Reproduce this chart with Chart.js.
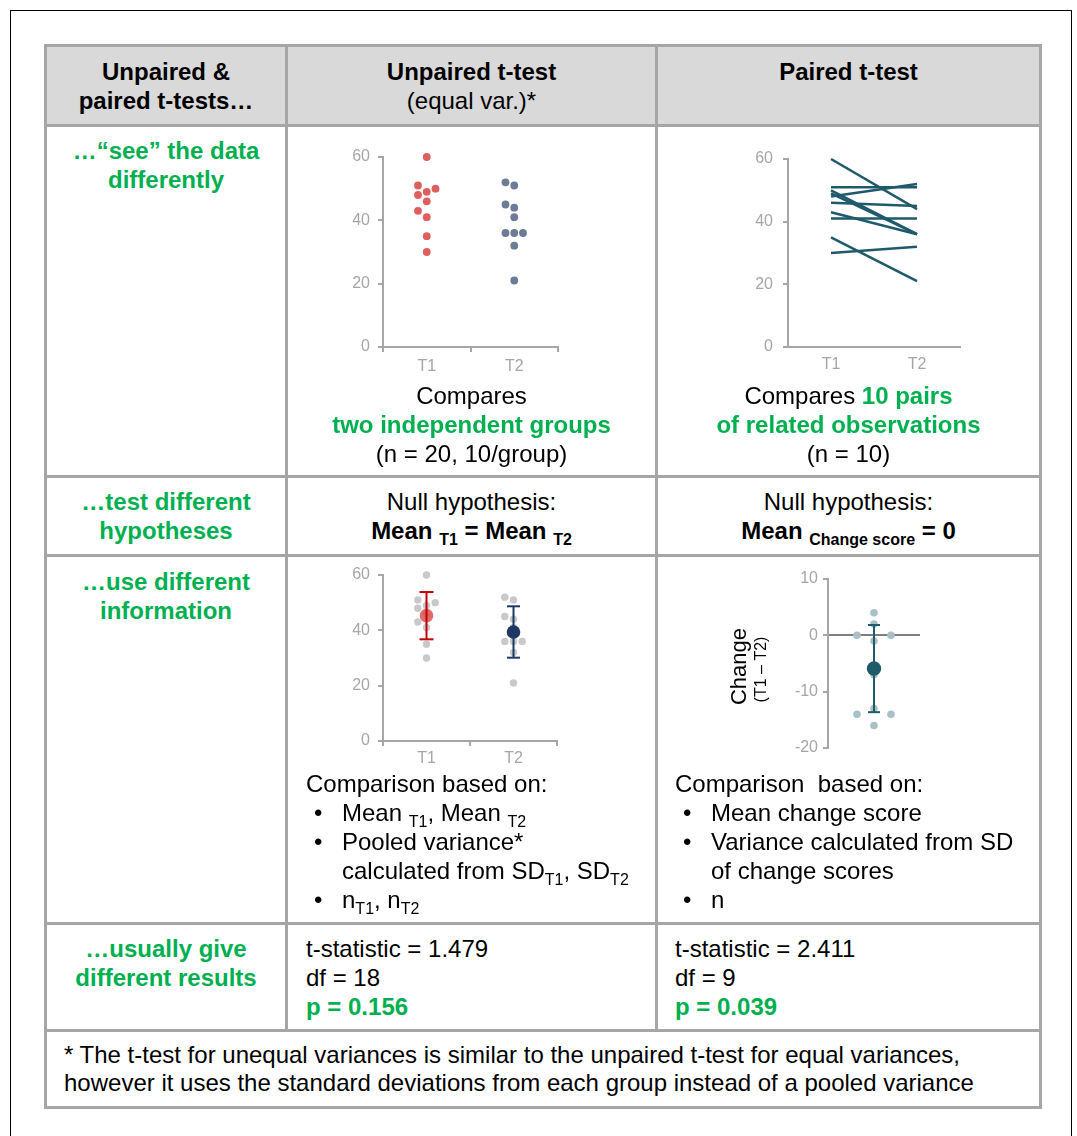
<!DOCTYPE html>
<html>
<head>
<meta charset="utf-8">
<script src="https://cdn.jsdelivr.net/npm/chart.js@4.4.1/dist/chart.umd.min.js"></script>
<style>
body { margin: 0; background: #fff; font-family: "Liberation Sans", Arial, sans-serif; color: #000; }
#page { position: relative; width: 1077px; height: 1136px; overflow: hidden; }
.frame { position: absolute; left: 10px; top: 10px; width: 1060px; height: 1200px; border: 1.5px solid #000; }
.hl, .vl { position: absolute; background: #a6a6a6; }
.hl { height: 3px; }
.vl { width: 3px; }
.head { position: absolute; left: 45px; top: 45px; width: 995px; height: 80px; background: #d9d9d9; }
.txt { position: absolute; font-size: 24px; line-height: 29px; white-space: nowrap; }
.c { text-align: center; }
.b { font-weight: bold; }
.g { color: #00b050; font-weight: bold; }
.sub { font-size: 16px; line-height: 0; position: relative; top: 6px; }
.li { position: relative; padding-left: 36px; }
.li::before { content: "\2022"; position: absolute; left: 8px; }
canvas { position: absolute; }
</style>
</head>
<body>
<div id="page">
  <div class="frame"></div>
  <div class="head"></div>

  <!-- table grid -->
  <div class="hl" style="left:44px;top:44px;width:998px"></div>
  <div class="hl" style="left:44px;top:124px;width:998px"></div>
  <div class="hl" style="left:44px;top:475px;width:998px"></div>
  <div class="hl" style="left:44px;top:554px;width:998px"></div>
  <div class="hl" style="left:44px;top:922px;width:998px"></div>
  <div class="hl" style="left:44px;top:1029px;width:998px"></div>
  <div class="hl" style="left:44px;top:1106px;width:998px"></div>
  <div class="vl" style="left:44px;top:44px;height:1065px"></div>
  <div class="vl" style="left:1039px;top:44px;height:1065px"></div>
  <div class="vl" style="left:285px;top:44px;height:987px"></div>
  <div class="vl" style="left:655px;top:44px;height:987px"></div>

  <!-- header -->
  <div class="txt c b" style="left:47px;top:57px;width:238px">Unpaired &amp;<br>paired t-tests…</div>
  <div class="txt c" style="left:288px;top:57px;width:367px"><b>Unpaired t-test</b><br>(equal var.)*</div>
  <div class="txt c b" style="left:658px;top:57px;width:381px">Paired t-test</div>

  <!-- row 1 -->
  <div class="txt c g" style="left:47px;top:136px;width:238px">…“see” the data<br>differently</div>
  <canvas id="c1" width="250" height="240" style="left:330px;top:145px"></canvas>
  <canvas id="c2" width="250" height="240" style="left:735px;top:145px"></canvas>
  <div class="txt c" style="left:288px;top:381px;width:367px">Compares<br><span class="g">two independent groups</span><br>(n = 20, 10/group)</div>
  <div class="txt c" style="left:658px;top:381px;width:381px">Compares <span class="g">10 pairs</span><br><span class="g">of related observations</span><br>(n = 10)</div>

  <!-- row 2 -->
  <div class="txt c g" style="left:47px;top:487px;width:238px">…test different<br>hypotheses</div>
  <div class="txt c" style="left:288px;top:487px;width:367px">Null hypothesis:<br><b>Mean <span class="sub">T1</span> = Mean <span class="sub">T2</span></b></div>
  <div class="txt c" style="left:658px;top:487px;width:381px">Null hypothesis:<br><b>Mean <span class="sub">Change score</span> = 0</b></div>

  <!-- row 3 -->
  <div class="txt c g" style="left:47px;top:567px;width:238px">…use different<br>information</div>
  <canvas id="c3" width="250" height="210" style="left:330px;top:560px"></canvas>
  <canvas id="c4" width="220" height="200" style="left:720px;top:565px"></canvas>
  <div class="txt" style="left:306px;top:769px">
    <div>Comparison based on:</div>
    <div class="li">Mean <span class="sub">T1</span>, Mean <span class="sub">T2</span></div>
    <div class="li">Pooled variance*<br>calculated from SD<span class="sub">T1</span>, SD<span class="sub">T2</span></div>
    <div class="li">n<span class="sub">T1</span>, n<span class="sub">T2</span></div>
  </div>
  <div class="txt" style="left:675px;top:769px">
    <div>Comparison&nbsp; based on:</div>
    <div class="li">Mean change score</div>
    <div class="li">Variance calculated from SD<br>of change scores</div>
    <div class="li">n</div>
  </div>

  <!-- row 4 -->
  <div class="txt c g" style="left:47px;top:934px;width:238px">…usually give<br>different results</div>
  <div class="txt" style="left:306px;top:934px">t-statistic = 1.479<br>df = 18<br><span class="g">p = 0.156</span></div>
  <div class="txt" style="left:675px;top:934px">t-statistic = 2.411<br>df = 9<br><span class="g">p = 0.039</span></div>

  <!-- footnote -->
  <div class="txt" style="left:64px;top:1041px;line-height:28px">* The t-test for unequal variances is similar to the unpaired t-test for equal variances,<br>however it uses the standard deviations from each group instead of a pooled variance</div>
</div>

<script>
// data (same order in both arrays = same subject)
const groups = ['T1', 'T2'];
const scoresT1 = [60, 30, 35, 41, 46, 48, 51, 50, 49, 43];
const scoresT2 = [44, 32, 21, 41, 45, 52, 51, 36, 36, 36];
const changeScores = [-16, 2, -14, 0, -1, 4, 0, -14, -13, -7];
const scoreTicks = [0, 20, 40, 60];
const changeTicks = [-20, -10, 0, 10];

const AXIS = '#a6a6a6';
const TEAL = '#1f5a6b';
const tickFont = {family: '"Liberation Sans", Arial, sans-serif', size: 16};

function mean(a) {
    return a.reduce((s, v) => s + v, 0) / a.length;
}

function sd(a) {
    const m = mean(a);
    return Math.sqrt(a.reduce((s, v) => s + (v - m) * (v - m), 0) / (a.length - 1));
}

// simple beeswarm: returns a column offset for every value
function swarm(values, minGap) {
    const cols = values.map(() => null);
    const placed = [];
    const count = {};
    values.forEach(v => { count[v] = (count[v] || 0) + 1; });
    const seen = {};
    // ties get fanned out symmetrically first
    values.forEach((v, i) => {
        if (count[v] < 2) return;
        const k = seen[v] || 0;
        seen[v] = k + 1;
        cols[i] = k - (count[v] - 1) / 2;
        placed.push({v: v, c: cols[i]});
    });
    values.map((v, i) => i)
        .filter(i => cols[i] === null)
        .sort((a, b) => values[a] - values[b])
        .forEach(i => {
            const c = [0, -1, 1, -2, 2].find(c => !placed.some(p => p.c === c && Math.abs(p.v - values[i]) < minGap));
            cols[i] = c === undefined ? 0 : c;
            placed.push({v: values[i], c: cols[i]});
        });
    return cols;
}

function spread(values, cols, g, pitch) {
    return values.map((v, i) => ({x: g + 0.5 + cols[i] * pitch, y: v}));
}

function errBar(g, m, s) {
    return [{x: g + 0.5, y: m - s}, {x: g + 0.5, y: m + s}];
}

function yAxis(ticks, pad) {
    return {
        min: ticks[0],
        max: ticks[ticks.length - 1],
        afterBuildTicks: s => { s.ticks = ticks.map(v => ({value: v})); },
        afterFit: s => {
            s.width = 44;
            // let layout.padding alone decide where the plot starts
            s.paddingTop = 0;
            s.paddingBottom = 0;
        },
        border: {color: AXIS, width: 2},
        grid: {drawOnChartArea: false, tickLength: 5, color: AXIS, lineWidth: 2},
        ticks: {color: AXIS, font: tickFont, padding: pad}
    };
}

function groupAxis(tickMarks, pad, height) {
    return {
        type: 'linear',
        min: 0,
        max: groups.length,
        afterBuildTicks: s => {
            s.ticks = [];
            for (let v = 0; v <= groups.length; v += 0.5) s.ticks.push({value: v});
        },
        afterFit: s => { s.height = height; },
        border: {color: AXIS, width: 2},
        grid: {
            drawOnChartArea: false,
            tickLength: 5,
            lineWidth: 2,
            color: c => (tickMarks && Number.isInteger(c.tick.value)) ? AXIS : 'rgba(0,0,0,0)'
        },
        ticks: {color: AXIS, font: tickFont, padding: pad, autoSkip: false, maxRotation: 0,
            callback: v => groups[v - 0.5] || ''}
    };
}

function baseOptions(pad, scales, plugins) {
    return {
        responsive: false,
        animation: false,
        events: [],
        layout: {padding: pad},
        plugins: Object.assign({legend: {display: false}, tooltip: {enabled: false}}, plugins || {}),
        scales: scales
    };
}

const colsT1 = swarm(scoresT1, 2.8);
const colsT2 = swarm(scoresT2, 2.8);
const colsChange = swarm(changeScores, 1.6);

// 1. unpaired dot plot
new Chart(document.getElementById('c1'), {
    type: 'scatter',
    data: {
        datasets: [
            {data: spread(scoresT1, colsT1, 0, 0.1), backgroundColor: '#df5f5f', pointRadius: 3.9, pointBorderWidth: 0, clip: false},
            {data: spread(scoresT2, colsT2, 1, 0.1), backgroundColor: '#6c7b96', pointRadius: 3.9, pointBorderWidth: 0, clip: false}
        ]
    },
    options: baseOptions({left: 9, top: 12, right: 22, bottom: 8},
        {x: groupAxis(true, 5, 30), y: yAxis(scoreTicks, 8)})
});

// 2. paired lines
new Chart(document.getElementById('c2'), {
    type: 'scatter',
    data: {
        datasets: scoresT1.map((v, i) => ({
            data: [{x: 0.5, y: v}, {x: 1.5, y: scoresT2[i]}],
            showLine: true,
            borderColor: TEAL,
            borderWidth: 2.5,
            pointRadius: 0,
            clip: false
        }))
    },
    options: baseOptions({left: 9, top: 14, right: 25, bottom: 8},
        {x: groupAxis(false, 3, 30), y: yAxis(scoreTicks, 10)})
});

// 3. means +/- SD over the raw points
const m1 = mean(scoresT1), s1 = sd(scoresT1);
const m2 = mean(scoresT2), s2 = sd(scoresT2);
new Chart(document.getElementById('c3'), {
    type: 'scatter',
    data: {
        datasets: [
            {data: errBar(0, m1, s1), showLine: true, borderColor: '#c00000', borderWidth: 2,
                pointStyle: 'line', pointRadius: 7, pointBorderColor: '#c00000', pointBorderWidth: 2, order: 1, clip: false},
            {data: errBar(1, m2, s2), showLine: true, borderColor: '#1f3864', borderWidth: 2,
                pointStyle: 'line', pointRadius: 6.5, pointBorderColor: '#1f3864', pointBorderWidth: 2, order: 1, clip: false},
            {data: [{x: 0.5, y: m1}], backgroundColor: 'rgba(222,80,80,0.85)', pointRadius: 6.8, pointBorderWidth: 0, order: 2},
            {data: [{x: 1.5, y: m2}], backgroundColor: '#1f3864', pointRadius: 6.8, pointBorderWidth: 0, order: 2},
            {data: spread(scoresT1, colsT1, 0, 0.1), backgroundColor: '#c9c9c9', pointRadius: 3.7, pointBorderWidth: 0, order: 3, clip: false},
            {data: spread(scoresT2, colsT2, 1, 0.1), backgroundColor: '#c9c9c9', pointRadius: 3.7, pointBorderWidth: 0, order: 3, clip: false}
        ]
    },
    options: baseOptions({left: 9, top: 15, right: 23, bottom: 1},
        {x: groupAxis(true, 3, 28), y: yAxis(scoreTicks, 8)})
});

// 4. change scores
const changeLabel = {
    id: 'changeLabel',
    afterDraw(chart) {
        const {ctx, chartArea} = chart;
        const cy = (chartArea.top + chartArea.bottom) / 2 + 3;
        ctx.save();
        ctx.translate(chartArea.left - 88, cy);
        ctx.rotate(-Math.PI / 2);
        ctx.textAlign = 'center';
        ctx.textBaseline = 'middle';
        ctx.fillStyle = '#000';
        ctx.font = '22px "Liberation Sans", Arial, sans-serif';
        ctx.fillText('Change', 0, 0);
        ctx.font = '16px "Liberation Sans", Arial, sans-serif';
        ctx.fillText('(T1 \u2013 T2)', -3, 22);
        ctx.restore();
    }
};

const mc = mean(changeScores), sc = sd(changeScores);
const changeY = yAxis(changeTicks, 5);
changeY.grid = {
    drawOnChartArea: true,
    tickLength: 5,
    lineWidth: 2,
    tickColor: AXIS,
    color: c => c.tick.value === 0 ? '#7f7f7f' : 'rgba(0,0,0,0)'
};
new Chart(document.getElementById('c4'), {
    type: 'scatter',
    data: {
        datasets: [
            {data: [{x: 0.5, y: mc - sc}, {x: 0.5, y: mc + sc}], showLine: true, borderColor: TEAL, borderWidth: 2,
                pointStyle: 'line', pointRadius: 6, pointBorderColor: TEAL, pointBorderWidth: 2, order: 1, clip: false},
            {data: [{x: 0.5, y: mc}], backgroundColor: TEAL, pointRadius: 7.2, pointBorderWidth: 0, order: 2},
            {data: changeScores.map((v, i) => ({x: 0.5 + colsChange[i] * 0.37, y: v})),
                backgroundColor: '#a8c1c5', pointRadius: 3.8, pointBorderWidth: 0, order: 3, clip: false}
        ]
    },
    options: baseOptions({left: 64, top: 14, right: 20, bottom: 17},
        {x: {type: 'linear', min: 0, max: 1, display: false}, y: changeY}),
    plugins: [changeLabel]
});
</script>
</body>
</html>
